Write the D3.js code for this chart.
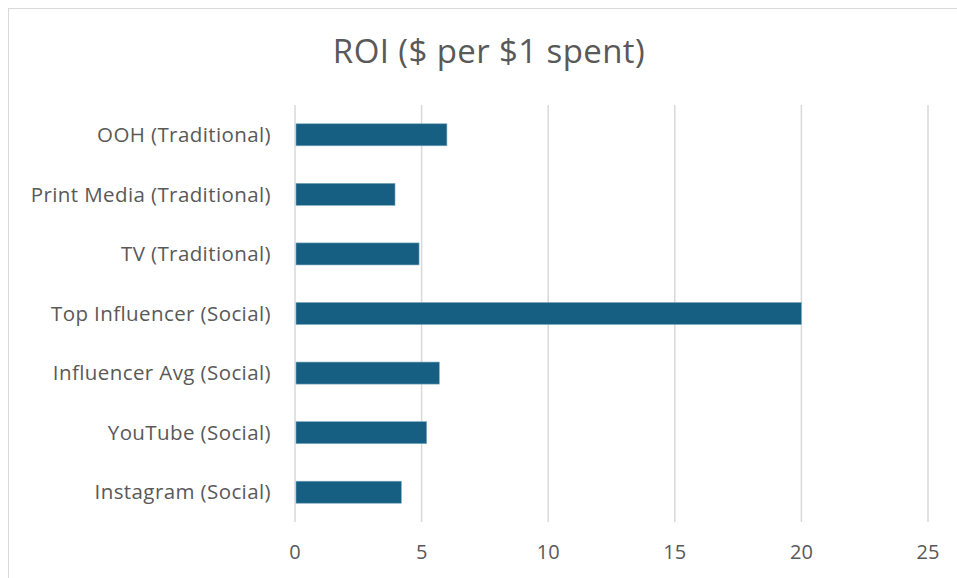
<!DOCTYPE html>
<html>
<head>
<meta charset="utf-8">
<script src="https://cdn.jsdelivr.net/npm/d3@7"></script>
<style>
  body { margin: 0; background: #fff; }
  svg text { font-family: "Open Sans", "Noto Sans", sans-serif; fill: #595959; }
</style>
</head>
<body>
<script>
var w = 957;
var h = 578;

var categories = [
    "OOH (Traditional)",
    "Print Media (Traditional)",
    "TV (Traditional)",
    "Top Influencer (Social)",
    "Influencer Avg (Social)",
    "YouTube (Social)",
    "Instagram (Social)"
];
var roi = [6, 3.95, 4.9, 20, 5.7, 5.2, 4.2];
var xTicks = [0, 5, 10, 15, 20, 25];

var svg = d3.select("body")
            .append("svg")
            .attr("width", w)
            .attr("height", h);

// chart border (right and bottom edges run off the picture)
svg.append("rect")
    .attr("x", 8.5)
    .attr("y", 8.5)
    .attr("width", 1000)
    .attr("height", 600)
    .attr("fill", "white")
    .attr("stroke", "#d9d9d9");

svg.append("text")
    .attr("x", 489)
    .attr("y", 63)
    .attr("text-anchor", "middle")
    .style("font-size", "33px")
    .style("letter-spacing", "0.4px")
    .text("ROI ($ per $1 spent)");

var x = d3.scaleLinear().domain([0, 25]).range([295, 928]);
var y = d3.scaleBand().domain(categories).range([105, 522]).paddingInner(0.63).paddingOuter(0.315);

// vertical gridlines
svg.selectAll("line.grid")
    .data(xTicks)
    .enter()
    .append("line")
    .attr("class", "grid")
    .attr("x1", function(d){ return x(d); })
    .attr("x2", function(d){ return x(d); })
    .attr("y1", 105)
    .attr("y2", 522)
    .attr("stroke", "#d9d9d9")
    .attr("stroke-width", 1.5);

svg.selectAll("rect.bar")
    .data(roi)
    .enter()
    .append("rect")
    .attr("class", "bar")
    .attr("x", x(0) + 1)
    .attr("y", function(d, i){ return y(categories[i]); })
    .attr("width", function(d){ return x(d) - x(0) - 1; })
    .attr("height", y.bandwidth())
    .attr("fill", "#175f82")
    .attr("stroke", "#7fa9c0")
    .attr("stroke-width", 0.6);

// category labels
svg.selectAll("text.cat")
    .data(categories)
    .enter()
    .append("text")
    .attr("class", "cat")
    .attr("x", 271)
    .attr("y", function(d){ return y(d) + y.bandwidth() / 2; })
    .attr("dy", "0.35em")
    .attr("text-anchor", "end")
    .style("font-size", "20.5px")
    .style("letter-spacing", "0.4px")
    .text(function(d){ return d; });

// x tick labels
svg.selectAll("text.tick")
    .data(xTicks)
    .enter()
    .append("text")
    .attr("class", "tick")
    .attr("x", function(d){ return x(d); })
    .attr("y", 559)
    .attr("text-anchor", "middle")
    .style("font-size", "20px")
    .text(function(d){ return d; });
</script>
</body>
</html>
